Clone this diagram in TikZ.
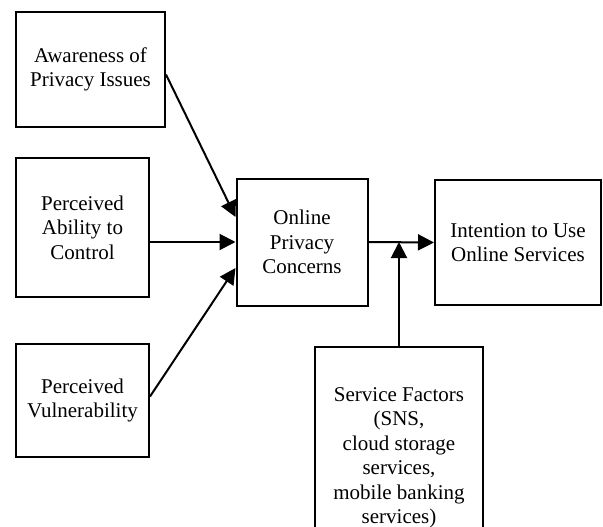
\documentclass[tikz,border=0pt]{standalone}
\usepackage{fontspec}
\setmainfont{Liberation Serif}
\usepackage{tikz}
\usetikzlibrary{arrows.meta}
\usetikzlibrary{positioning}
\tikzset{factor/.style = {draw, line width=2pt, align=center, inner sep=0,
                          font=\fontsize{21}{24.5}\selectfont}}
\tikzset{arr/.style = {line width=2pt, -{Triangle[length=16pt, width=16pt]}}}

\begin{document}
\begin{tikzpicture}[x=1pt, y=-1pt]
      \useasboundingbox (0, 0) rectangle (603, 527);
      \node [factor, minimum width=149pt, minimum height=115pt] (aware) at (90.5, 69.5) {Awareness of\\Privacy Issues};
      \node [factor, minimum width=133pt, minimum height=139pt] (abil) at (82.5, 227.5) {Perceived\\Ability to\\Control};
      \node [factor, minimum width=133pt, minimum height=113pt] (vuln) at (82.5, 400.5) {Perceived\\Vulnerability};
      \node [factor, minimum width=131pt, minimum height=127pt] (conc) at (302, 242) {Online\\Privacy\\Concerns};
      \node [factor, minimum width=166pt, minimum height=125pt] (use) at (518, 242.5) {Intention to Use\\Online Services};
      \node [factor, minimum width=168pt, minimum height=222pt] (serv) at (399, 458) {Service Factors\\(SNS,\\cloud storage\\services,\\mobile banking\\services)};
      \coordinate (join) at (serv.north |- conc.east);
      \draw [arr] ([yshift=-5pt]aware.east) -- ([yshift=25pt]conc.west);
      \draw [arr] (conc.west -| abil.east) -- (conc.west);
      \draw [arr] ([yshift=4pt]vuln.east) -- ([yshift=-26pt]conc.west);
      \draw [arr] (conc.east) -- (use.west);
      \draw [arr] (serv.north) -- (join);
    \end{tikzpicture}
\end{document}
